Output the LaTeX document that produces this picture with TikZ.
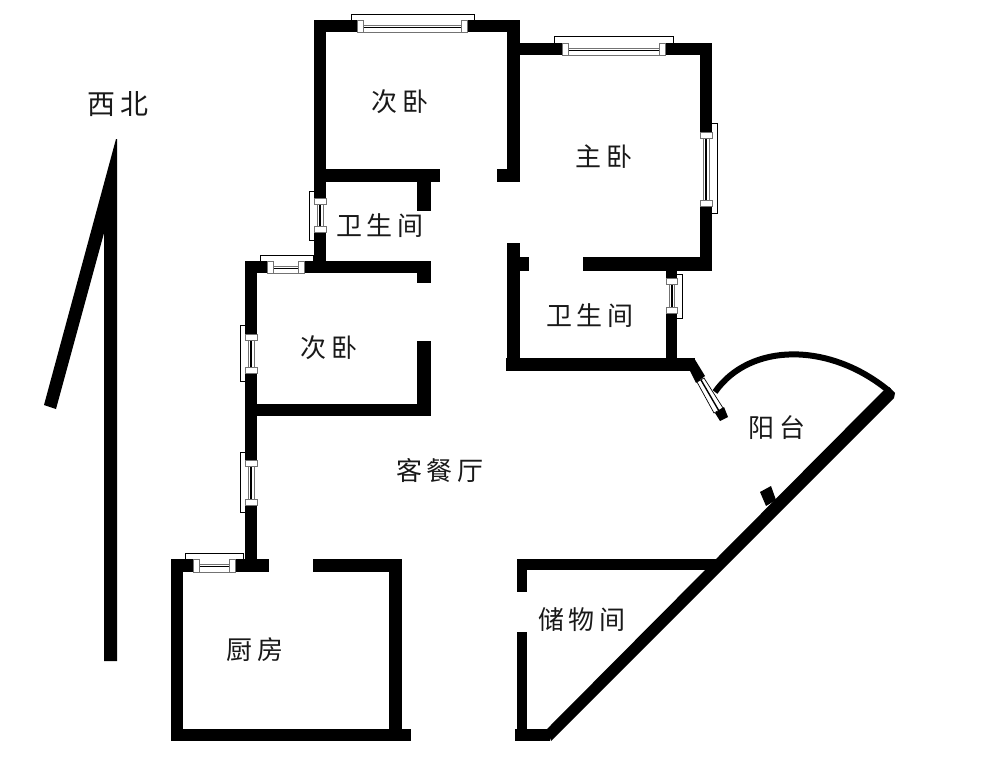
\documentclass[tikz,border=0pt]{standalone}
\usepackage{fontspec}
\newfontfamily\cjk[LetterSpace=16]{Noto Sans CJK SC}
\tikzset{
  wall/.style={fill=black, draw=none},
  winline/.style={draw=black, line width=0.7pt, fill=white},
  winpost/.style={draw=black!55, line width=0.6pt, fill=white},
  room/.style={font=\cjk\fontsize{26}{26}\selectfont, inner sep=0pt, text=black!90},
  title/.style={font=\cjk\fontsize{28}{28}\selectfont, inner sep=0pt, text=black!90}
}
\begin{document}
\begin{tikzpicture}[x=1pt, y=-1pt]
  \useasboundingbox (0,0) rectangle (1000,758);

  \foreach \xa/\ya/\xb/\yb in {
    314/20/357/32, 467/20/520/32, 314/20/326/198, 314/232/326/273, 507/20/520/182, 497/169/507/182,
    520/43/562/55, 665/43/712/55, 700/43/712/132, 700/206/712/271, 583/257/712/271,
    326/169/440/182, 417/182/431/211, 245/261/267/273, 304/261/431/273, 417/273/431/283,
    507/243/520/371, 520/257/529/271, 666/271/677/278, 666/313/677/358, 506/358/695/371,
    245/261/257/334, 245/373/257/460, 245/505/257/572, 257/404/431/416, 417/341/431/404,
    171/559/193/572, 235/559/269/572, 313/559/402/572, 171/559/183/741, 389/559/402/741, 171/729/411/741,
    517/559/720/570, 517/559/527/592, 517/632/527/741, 515/729/550/741
  }
    \fill[wall] (\xa,\ya) rectangle (\xb,\yb);

  % windows along a horizontal wall
  \foreach \fa/\fb/\wa/\wb/\ya/\yb/\yt in {
    351/474/357/467/20/32/14, 554/673/562/665/43/55/36,
    260/313/267/304/261/273/255, 185/243/193/235/559/572/553
  } {
    \draw[winline, fill=none] (\fa,\ya) -- (\fa,\yt) -- (\fb,\yt) -- (\fb,\ya);
    \draw[winpost] (\wa,\ya+5) rectangle (\wb,\yb);
    \draw[line width=1.8pt] (\wa,\ya+7.5) -- (\wb,\ya+7.5);
    \draw[winpost] (\wa,\ya) rectangle (\wa+6,\yb);
    \draw[winpost] (\wb-6,\ya) rectangle (\wb,\yb);
  }

  % windows along a vertical wall
  \foreach \xa/\xb/\wa/\wb/\fa/\fb/\xt/\xo in {
    700/712/132/206/123/213/717/712, 666/677/278/313/274/318/682/677,
    314/326/198/232/191/240/309/314, 245/257/334/373/325/381/240/245, 245/257/460/505/452/512/240/245
  } {
    \draw[winline, fill=none] (\xo,\fa) -- (\xt,\fa) -- (\xt,\fb) -- (\xo,\fb);
    \draw[winpost] (\xa+3,\wa) rectangle (\xb-3,\wb);
    \draw[line width=1.8pt] (\xa+6,\wa) -- (\xa+6,\wb);
    \draw[winpost] (\xa,\wa) rectangle (\xb,\wa+6);
    \draw[winpost] (\xa,\wb-6) rectangle (\xb,\wb);
  }

  % balcony
  \fill[wall] (551,741) -- (894,398) -- (895,393) -- (889,387) -- (883,391) -- (547,729) -- cycle;
  \fill[wall] (760,492) -- (771,486) -- (776,500) -- (766,506) -- cycle;
  \draw[line width=6pt] (715,392) .. controls (750,342) and (830,342) .. (889,391);
  \fill[wall] (694,358) -- (705,376) -- (696,383) -- (690,371) -- cycle;
  \draw[winline] (697,382) -- (704,378) -- (723,408) -- (714,413) -- cycle;
  \draw[line width=1.4pt] (701,380) -- (719,411);
  \fill[wall] (715,413) -- (724,407) -- (728,417) -- (720,421) -- cycle;

  % compass
  \fill[wall] (116,139) -- (117,139) -- (117,661) -- (104,661) -- (104,233) -- (56,409) -- (44,405) -- cycle;

  \node[title] (compass) at (118,104) {西北};
  \node[room] (bedtop) at (400,102) {次卧};
  \node[room] (master) at (604,157) {主卧};
  \node[room] (bathleft) at (380,226) {卫生间};
  \node[room] (bathright) at (590,316) {卫生间};
  \node[room] (bedleft) at (329,348) {次卧};
  \node[room] (living) at (440,470) {客餐厅};
  \node[room] (balcony) at (777,428) {阳台};
  \node[room] (storage) at (582,620) {储物间};
  \node[room] (kitchen) at (255,650) {厨房};
\end{tikzpicture}
\end{document}
